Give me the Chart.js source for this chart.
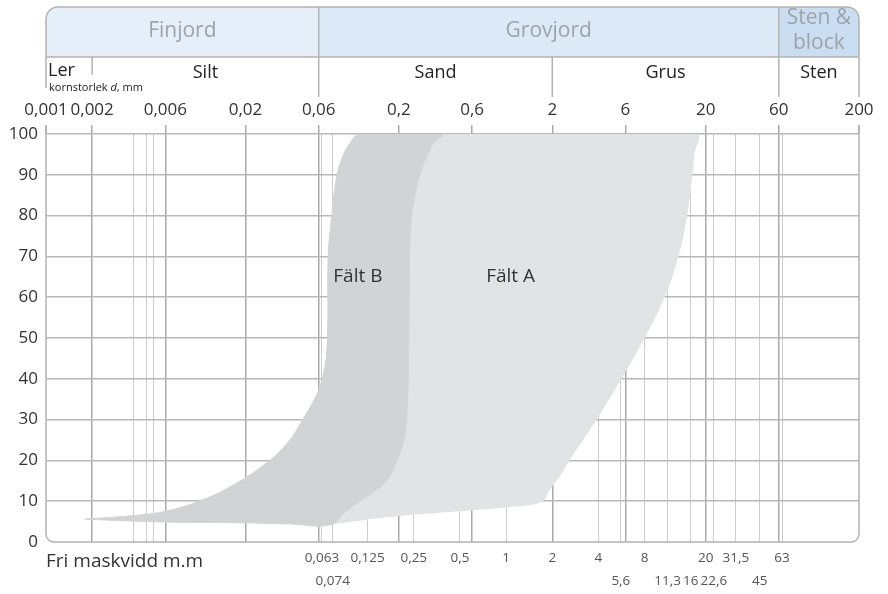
<!DOCTYPE html>
<html>
<head>
<meta charset="utf-8">
<script src="https://cdn.jsdelivr.net/npm/chart.js@4.4.0/dist/chart.umd.min.js"></script>
<style>
html, body { margin: 0; padding: 0; background: #fff; }
#wrap { width: 888px; height: 594px; position: relative; }
</style>
</head>
<body>
<div id="wrap"><canvas id="kurva"></canvas></div>
<script>
const FONT = "'Open Sans', 'Noto Sans', sans-serif";

////////////////////////////////////////////////////////////////////////////////
// data
////////////////////////////////////////////////////////////////////////////////
// kornstorlek d, mm (övre axeln)
const TOP_TICKS = [0.001, 0.002, 0.006, 0.02, 0.06, 0.2, 0.6, 2, 6, 20, 60, 200];
const TOP_LABELS = ["0,001", "0,002", "0,006", "0,02", "0,06", "0,2", "0,6", "2", "6", "20", "60", "200"];

// fri maskvidd (nedre axeln), rad 1 eller 2
const SIEVE_TICKS = [0.0037, 0.0045, 0.005, 0.063, 0.074, 0.125, 0.25, 0.5, 1, 2, 4, 5.6, 8, 11.3, 16, 20, 22.6, 31.5, 45, 63];
const SIEVE_LABELS = ["", "", "", "0,063", "0,074", "0,125", "0,25", "0,5", "1", "2", "4", "5,6", "8", "11,3", "16", "20", "22,6", "31,5", "45", "63"];
const SIEVE_ROW = [1, 1, 1, 1, 2, 1, 1, 1, 1, 1, 1, 2, 1, 2, 2, 1, 2, 1, 2, 1];

// jordarter
const GROUPS = ["Finjord", "Grovjord", "Sten &|block"];
const GROUP_LIMITS = [0.001, 0.06, 60, 200];
const FRACTIONS = ["Ler", "Silt", "Sand", "Grus", "Sten"];
const FRACTION_LIMITS = [0.001, 0.002, 0.06, 2, 60, 200];

// Fält B (sluten kontur: vänster kant upp, höger kant ner, botten tillbaka)
const B_X = [0.00179, 0.00353, 0.00578, 0.00963, 0.0158, 0.0275, 0.0389, 0.0472, 0.0545, 0.0610, 0.0658, 0.0680, 0.0688, 0.0692, 0.0729, 0.0787, 0.0850, 0.0950, 0.111,
             0.386, 0.340, 0.300, 0.273, 0.255, 0.242, 0.235, 0.232, 0.228, 0.222, 0.212, 0.194, 0.170, 0.140, 0.111, 0.090, 0.0708,
             0.0400, 0.0192, 0.00578, 0.00179];
const B_Y = [5.6, 6.4, 7.4, 9.8, 13.5, 19.4, 25, 30, 34, 38, 43, 48, 55, 69.9, 79.9, 89.7, 94, 97.5, 100,
             100, 98, 94, 90, 85, 80, 70, 50, 35, 28, 24, 20, 15.5, 12.5, 10, 7.5, 4.2,
             4.4, 4.7, 4.9, 5.6];

// Fält A
const A_X = [0.0708, 0.090, 0.111, 0.140, 0.170, 0.194, 0.212, 0.222, 0.228, 0.232, 0.235, 0.242, 0.255, 0.273, 0.300, 0.340, 0.386,
             17.4, 16.9, 16.4, 15.0, 13.3, 10.8, 8.0, 5.65, 3.89, 2.59, 2.23, 1.92, 1.70,
             1.05, 0.605, 0.235, 0.120, 0.0708];
const A_Y = [4.2, 7.5, 10, 12.5, 15.5, 20, 24, 28, 35, 50, 70, 80, 85, 90, 94, 98, 100,
             100, 95, 90, 79, 70, 60, 50, 40, 30, 20, 16, 12.7, 9.8,
             8.6, 7.8, 6.6, 5.4, 4.2];

const FIELD_NAMES = ["Fält B", "Fält A"];
const FIELD_LABEL_X = [0.108, 1.07];
const FIELD_LABEL_Y = [65, 65];

const toPoints = (xs, ys) => xs.map((x, i) => ({ x: x, y: ys[i] }));

////////////////////////////////////////////////////////////////////////////////
// header, ram och texter
////////////////////////////////////////////////////////////////////////////////
const GROUP_COLORS = ["#e5eff9", "#dce9f6", "#cbdef1"];
const LINE = "#b3b3b3";

const decor = {
    id: "decor",
    afterDraw(chart) {
        const ctx = chart.ctx;
        const xs = chart.scales.x;
        const px = (v) => xs.getPixelForValue(v);
        const area = chart.chartArea;
        const L = px(GROUP_LIMITS[0]);
        const R = px(GROUP_LIMITS[GROUP_LIMITS.length - 1]);
        const top = 7, mid = 57, r = 12, cr = 8;

        ctx.save();

        // grupper
        ctx.save();
        ctx.beginPath();
        ctx.roundRect(L, top, R - L, mid - top, [r, r, 0, 0]);
        ctx.clip();
        GROUPS.forEach((g, i) => {
            ctx.fillStyle = GROUP_COLORS[i];
            ctx.fillRect(px(GROUP_LIMITS[i]), top, px(GROUP_LIMITS[i + 1]) - px(GROUP_LIMITS[i]), mid - top);
        });
        ctx.restore();

        ctx.strokeStyle = LINE;
        ctx.lineWidth = 1.5;
        ctx.beginPath();
        ctx.moveTo(L, 88);
        ctx.lineTo(L, top + r);
        ctx.arcTo(L, top, L + r, top, r);
        ctx.lineTo(R - r, top);
        ctx.arcTo(R, top, R, top + r, r);
        ctx.lineTo(R, 97);
        ctx.moveTo(L, mid);
        ctx.lineTo(R, mid);
        // gruppgränser
        for (let i = 1; i < GROUP_LIMITS.length - 1; i++) {
            ctx.moveTo(px(GROUP_LIMITS[i]), top);
            ctx.lineTo(px(GROUP_LIMITS[i]), mid);
        }
        // fraktionsgränser
        for (let i = 1; i < FRACTION_LIMITS.length - 1; i++) {
            const x = px(FRACTION_LIMITS[i]);
            ctx.moveTo(x, mid);
            ctx.lineTo(x, i === 1 ? 75 : 97);
        }
        // ram runt diagrammet
        ctx.moveTo(L, 125);
        ctx.lineTo(L, area.bottom - cr);
        ctx.arcTo(L, area.bottom, L + cr, area.bottom, cr);
        ctx.lineTo(R - cr, area.bottom);
        ctx.arcTo(R, area.bottom, R, area.bottom - cr, cr);
        ctx.lineTo(R, 125);
        ctx.stroke();

        // gruppnamn
        ctx.fillStyle = "#9ea3a9";
        ctx.textAlign = "center";
        ctx.textBaseline = "middle";
        ctx.font = "21px " + FONT;
        GROUPS.forEach((g, i) => {
            const cx = (px(GROUP_LIMITS[i]) + px(GROUP_LIMITS[i + 1])) / 2;
            const lines = g.split("|");
            if (lines.length === 1) {
                ctx.fillText(lines[0], cx, 31);
            } else {
                ctx.fillText(lines[0], cx, 18);
                ctx.fillText(lines[1], cx, 43);
            }
        });

        // fraktioner
        ctx.fillStyle = "#222";
        ctx.font = "18px " + FONT;
        FRACTIONS.forEach((f, i) => {
            if (i === 0) {
                ctx.textAlign = "left";
                ctx.fillText(f, L + 2, 71);
            } else {
                ctx.textAlign = "center";
                ctx.fillText(f, (px(FRACTION_LIMITS[i]) + px(FRACTION_LIMITS[i + 1])) / 2, 73);
            }
        });
        ctx.textAlign = "left";
        ctx.font = "11px " + FONT;
        let tx = L + 3;
        ctx.fillText("kornstorlek ", tx, 88);
        tx += ctx.measureText("kornstorlek ").width;
        ctx.font = "italic 11px " + FONT;
        ctx.fillText("d", tx, 88);
        tx += ctx.measureText("d").width;
        ctx.font = "11px " + FONT;
        ctx.fillText(", mm", tx, 88);

        // fält
        ctx.fillStyle = "#333";
        ctx.font = "19px " + FONT;
        ctx.textAlign = "center";
        FIELD_NAMES.forEach((n, i) => {
            ctx.fillText(n, px(FIELD_LABEL_X[i]), chart.scales.y.getPixelForValue(FIELD_LABEL_Y[i]));
        });

        // nedre rubrik
        ctx.textAlign = "left";
        ctx.fillStyle = "#333";
        ctx.font = "19px " + FONT;
        ctx.fillText("Fri maskvidd m.m", L, 562);

        ctx.restore();
    }
};

////////////////////////////////////////////////////////////////////////////////
// chart
////////////////////////////////////////////////////////////////////////////////
const majorGrid = (ctx) => {
    const i = ctx.index;
    return (i === 0 || i === TOP_TICKS.length - 1) ? "rgba(0,0,0,0)" : "#a9a9a9";
};

const createChart = () => {
    const canvas = document.querySelector("#kurva");
    return new Chart(canvas, {
        type: "scatter",
        data: {
            datasets: [
                {
                    label: "Fält B",
                    data: toPoints(B_X, B_Y),
                    showLine: true,
                    fill: "shape",
                    backgroundColor: "#d2d3d5",
                    borderColor: "#d2d3d5",
                    borderWidth: 1,
                    pointRadius: 0,
                    tension: 0.4,
                },
                {
                    label: "Fält A",
                    data: toPoints(A_X, A_Y),
                    showLine: true,
                    fill: "shape",
                    backgroundColor: "#e2e3e5",
                    borderColor: "#e2e3e5",
                    borderWidth: 0,
                    pointRadius: 0,
                    tension: 0.4,
                },
            ],
        },
        options: {
            responsive: true,
            maintainAspectRatio: false,
            animation: false,
            layout: { padding: { left: 0, right: 29, top: 0, bottom: 0 } },
            plugins: {
                legend: { display: false },
                tooltip: { enabled: false },
            },
            scales: {
                x: {
                    type: "logarithmic",
                    position: "bottom",
                    min: 0.001,
                    max: 200,
                    z: 1,
                    afterBuildTicks: (s) => { s.ticks = SIEVE_TICKS.map((v) => ({ value: v })); },
                    afterFit: (s) => { s.height = 52; },
                    border: { display: false },
                    grid: { color: "#cdcdcd", lineWidth: 1, drawTicks: false },
                    ticks: {
                        autoSkip: false,
                        maxRotation: 0,
                        minRotation: 0,
                        padding: 4,
                        color: "#555",
                        font: { family: FONT, size: 13.5, lineHeight: 1.75 },
                        callback: (v, i) => SIEVE_ROW[i] === 2 ? ["", SIEVE_LABELS[i]] : SIEVE_LABELS[i],
                    },
                },
                xTop: {
                    type: "logarithmic",
                    position: "top",
                    min: 0.001,
                    max: 200,
                    z: 1,
                    afterBuildTicks: (s) => { s.ticks = TOP_TICKS.map((v) => ({ value: v })); },
                    afterFit: (s) => { s.height = 134; },
                    border: { display: false },
                    grid: { color: majorGrid, lineWidth: 1.5, tickLength: 9, tickColor: "#aaaaaa", tickWidth: 1.5 },
                    ticks: {
                        autoSkip: false,
                        maxRotation: 0,
                        minRotation: 0,
                        padding: 5,
                        color: "#333",
                        font: { family: FONT, size: 17 },
                        callback: (v, i) => TOP_LABELS[i],
                    },
                },
                y: {
                    min: 0,
                    max: 100,
                    z: 1,
                    afterFit: (s) => { s.width = 46; },
                    border: { display: false },
                    grid: {
                        color: (ctx) => ctx.tick.value === 0 ? "rgba(0,0,0,0)" : "#b8b8b8",
                        lineWidth: 1.5,
                        drawTicks: false,
                    },
                    ticks: {
                        stepSize: 10,
                        padding: 8,
                        color: "#333",
                        font: { family: FONT, size: 17 },
                    },
                },
            },
        },
        plugins: [decor],
    });
};

createChart();
</script>
</body>
</html>
